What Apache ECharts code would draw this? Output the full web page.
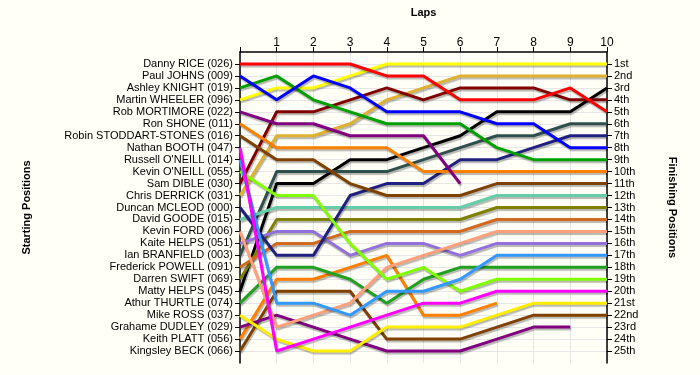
<!DOCTYPE html>
<html><head><meta charset="utf-8">
<script src="https://cdn.jsdelivr.net/npm/echarts@6/dist/echarts.min.js"></script>
<style>html,body{margin:0;padding:0;background:#fffff7}#c{width:700px;height:375px}</style>
</head><body><div id="c"></div>
<script>
const laps = [0,1,2,3,4,5,6,7,8,9,10];
const lapLabels = ['', '1','2','3','4','5','6','7','8','9','10'];
const startingNames = [
  'Danny RICE (026)','Paul JOHNS (009)','Ashley KNIGHT (019)','Martin WHEELER (096)',
  'Rob MORTIMORE (022)','Ron SHONE (011)','Robin STODDART-STONES (016)','Nathan BOOTH (047)',
  "Russell O'NEILL (014)","Kevin O'NEILL (055)",'Sam DIBLE (030)','Chris DERRICK (031)',
  'Duncan MCLEOD (000)','David GOODE (015)','Kevin FORD (006)','Kaite HELPS (051)',
  'Ian BRANFIELD (003)','Frederick POWELL (091)','Darren SWIFT (069)','Matty HELPS (045)',
  'Athur THURTLE (074)','Mike ROSS (037)','Grahame DUDLEY (029)','Keith PLATT (056)','Kingsley BECK (066)'
];
const finishingLabels = ['1st','2nd','3rd','4th','5th','6th','7th','8th','9th','10th','11th','12th',
  '13th','14th','15th','16th','17th','18th','19th','20th','21st','22nd','23rd','24th','25th'];

// positions per lap (lap 0 = start)
const dannyRice       = [1,1,1,1,2,2,4,4,4,3,5];
const paulJohns       = [2,4,2,3,5,5,5,6,6,8,8];
const ashleyKnight    = [3,2,4,5,6,6,6,8,9,9,9];
const martinWheeler   = [4,3,3,2,1,1,1,1,1,1,1];
const robMortimore    = [5,6,6,7,7,7,11];
const ronShone        = [6,8,8,8,8,10,10,10,10,10,10];
const robinStoddart   = [7,9,9,11,12,12,12,11,11,11,11];
const nathanBooth     = [8,25,24,23,22,21,21,20,20,20,20];
const russellONeill   = [9,21,21,22,20,20,19,17,17,17,17];
const kevinONeill     = [10,12,12,16,19,18,20,19,19,19,19];
const samDible        = [11,5,5,4,3,4,3,3,3,4,4];
const chrisDerrick    = [12,7,7,6,4,3,2,2,2,2,2];
const duncanMcleod    = [13,17,17,12,11,11,9,9,8,7,7];
const davidGoode      = [14,13,13,13,13,13,13,12,12,12,12];
const kevinFord       = [15,23,22,21,18,17,16,15,15,15,15];
const kaiteHelps      = [16,15,15,17,16,16,17,16,16,16,16];
const ianBranfield    = [17,10,10,10,10,9,8,7,7,6,6];
const frederickPowell = [18,16,16,15,15,15,15,14,14,14,14];
const darrenSwift     = [19,14,14,14,14,14,14,13,13,13,13];
const mattyHelps      = [20,11,11,9,9,8,7,5,5,5,3];
const athurThurtle    = [21,18,18,19,21,19,18,18,18,18,18];
const mikeRoss        = [22,24,25,25,23,23,23,22,21,21,21];
const grahameDudley   = [23,22,23,24,25,25,25,24,23,23];
const keithPlatt      = [24,19,19,18,17,22,22,21];
const kingsleyBeck    = [25,20,20,20,24,24,24,23,22,22,22];

const allPositions = [dannyRice,paulJohns,ashleyKnight,martinWheeler,robMortimore,ronShone,robinStoddart,
  nathanBooth,russellONeill,kevinONeill,samDible,chrisDerrick,duncanMcleod,davidGoode,kevinFord,kaiteHelps,
  ianBranfield,frederickPowell,darrenSwift,mattyHelps,athurThurtle,mikeRoss,grahameDudley,keithPlatt,kingsleyBeck];

const colors = ['#ff0000','#0000ff','#00a000','#ffff00','#800080','#ff8000','#804000','#ff00ff','#3399ff',
  '#80ff00','#800000','#e0b030','#202080','#66cdaa','#ffa07a','#9370db','#2f4f4f','#d2691e','#808000',
  '#000000','#20a020','#ffee00','#800080','#ff8000','#804000'];

const font = 'Liberation Sans, Arial, sans-serif';
const ticks = startingNames.map((_, i) => i + 1);

const chart = echarts.init(document.getElementById('c'), null, {renderer: 'canvas'});
const series = allPositions.map((pos, i) => ({
  name: startingNames[i],
  type: 'line',
  xAxisIndex: 0,
  yAxisIndex: 0,
  symbol: 'none',
  silent: true,
  animation: false,
  data: pos.map((p, lap) => [laps[lap], p]),
  lineStyle: {
    color: colors[i], width: 3,
    shadowColor: 'rgba(0,0,0,0.28)', shadowOffsetX: 1, shadowOffsetY: 2, shadowBlur: 1
  },
  z: 2
})).reverse();

chart.setOption({
  backgroundColor: '#fffff7',
  animation: false,
  grid: {left: 240, right: 93, top: 52, bottom: 12, containLabel: false},
  xAxis: {
    type: 'value', position: 'top', min: 0, max: 10, interval: 1,
    name: 'Laps', nameLocation: 'middle', nameGap: 34,
    nameTextStyle: {fontFamily: font, fontWeight: 'bold', fontSize: 11, color: '#000'},
    axisLine: {show: true, lineStyle: {color: '#000', width: 1.5}},
    axisTick: {show: true, length: 5, lineStyle: {color: '#000'}},
    axisLabel: {fontFamily: font, fontSize: 12, color: '#000', margin: 3,
      formatter: v => lapLabels[v] || ''},
    splitLine: {show: true, lineStyle: {color: '#e6e6e6', width: 1}}
  },
  yAxis: [{
    type: 'value', position: 'left', inverse: true, min: 0, max: 26, interval: 1,
    name: 'Starting Positions', nameLocation: 'middle', nameGap: 208, nameRotate: 90,
    nameTextStyle: {fontFamily: font, fontWeight: 'bold', fontSize: 11, color: '#000'},
    axisLine: {show: true, lineStyle: {color: '#000', width: 1.5}},
    axisTick: {show: true, length: 5, inside: false, customValues: ticks, lineStyle: {color: '#000'}},
    axisLabel: {fontFamily: font, fontSize: 11, color: '#000', margin: 7, customValues: ticks,
      formatter: v => startingNames[v - 1] || ''},
    splitLine: {show: true, lineStyle: {color: '#e6e6e6', width: 1}}
  }, {
    type: 'value', position: 'right', inverse: true, min: 0, max: 26, interval: 1,
    name: 'Finishing Positions', nameLocation: 'middle', nameGap: 60, nameRotate: -90,
    nameTextStyle: {fontFamily: font, fontWeight: 'bold', fontSize: 11, color: '#000'},
    axisLine: {show: true, lineStyle: {color: '#000', width: 1.5}},
    axisTick: {show: true, length: 5, customValues: ticks, lineStyle: {color: '#000'}},
    axisLabel: {fontFamily: font, fontSize: 11, color: '#000', margin: 7, customValues: ticks,
      formatter: v => finishingLabels[v - 1] || ''},
    splitLine: {show: false}
  }],
  series: series
});
</script></body></html>
